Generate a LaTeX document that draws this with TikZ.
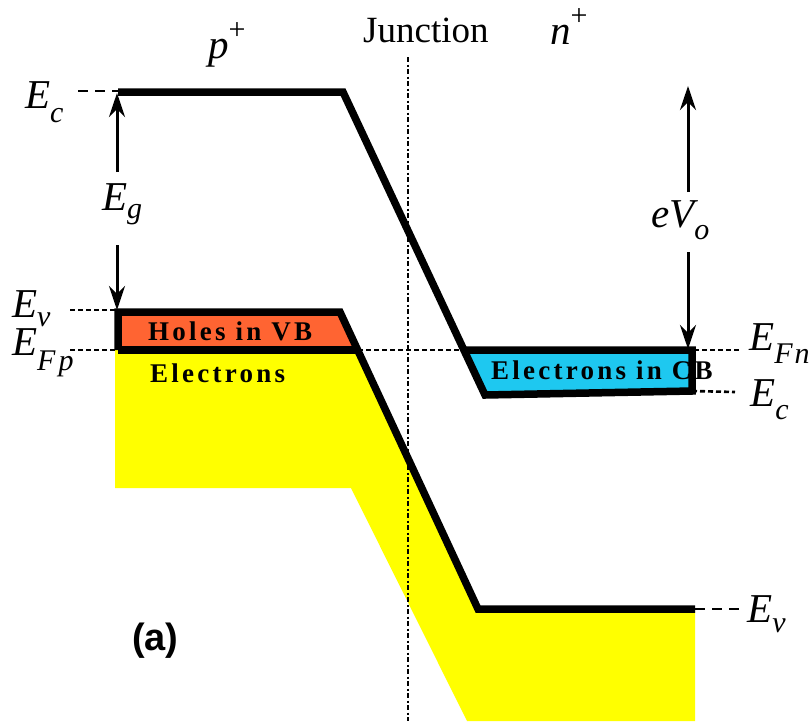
\documentclass[tikz,border=0pt]{standalone}
\usepackage{fontspec}
\setmainfont{Liberation Serif}
\setsansfont{Liberation Sans}
\usetikzlibrary{arrows.meta}
\definecolor{holes}{RGB}{255,100,50}
\definecolor{elecb}{RGB}{30,200,240}
\definecolor{yel}{RGB}{255,255,0}
\newcommand\Ebig{\fontsize{41}{44}\selectfont\itshape}
\newcommand\lowsub[2]{\raisebox{-#1}{\fontsize{30}{32}\selectfont\itshape #2}}
\begin{document}
\begin{tikzpicture}[x=1pt,y=-1pt,
  band/.style={line width=7.5pt, line join=miter},
  thin/.style={line width=3pt},
  dotl/.style={line width=2.6pt, dash pattern=on 5pt off 3pt},
  dashl/.style={line width=2.6pt, dash pattern=on 10pt off 7pt},
  junc/.style={line width=2.2pt, dash pattern=on 5pt off 2.5pt on 2pt off 2.5pt},
  lbl/.style={inner sep=0pt, anchor=base west, text=black},
  boxtxt/.style={inner sep=0pt, font=\fontsize{27}{29}\selectfont\bfseries\addfontfeatures{LetterSpace=12}},
  arr/.style={thin, -{Stealth[length=24pt, width=16pt, inset=8pt]}}]
\useasboundingbox (0,0) rectangle (811,721);
% yellow electrons region
\fill[yel] (115,350) -- (358,350) -- (478,609) -- (695,609) -- (695,721) -- (467,721) -- (351,488) -- (115,488) -- cycle;
% orange holes box
\fill[holes] (118,312) -- (340,312) -- (358,350) -- (118,350) -- cycle;
% blue electrons box
\fill[elecb] (464,350) -- (692,350) -- (692,391) -- (485,395) -- cycle;
% coordinates
\coordinate (ecL) at (118,92);
\coordinate (ecK) at (343,92);
\coordinate (ecB) at (485,395);
\coordinate (ecR) at (692,391);
\coordinate (fnR) at (692,350);
\coordinate (fnL) at (464,350);
\coordinate (evL) at (118,312);
\coordinate (evK) at (340,312);
\coordinate (evB) at (478,609);
\coordinate (evR) at (695,609);
\coordinate (fpL) at (118,350);
\coordinate (fpK) at (358,350);
% dashed level lines
\draw[dotl] (70,350) -- (740,350);
\draw[dotl] (70,310) -- (172,310);
\draw[dashl] (78,91) -- (180,91);
\draw[dotl] (ecR) -- (735,392);
\draw[dashl] (evR) -- (742,609);
% junction line
\draw[junc] (408,57) -- (408,721);
% texts in boxes
\node[boxtxt, anchor=west] (holes) at (148,331) {Holes in VB};
\node[boxtxt, anchor=west] (elec) at (150,373) {Electrons};
\node[boxtxt, anchor=west] (ecb) at (491,370) {Electrons in CB};
% bands
\draw[band] (ecL) -- (ecK) -- (ecB) -- (ecR) -- (fnR) -- (fnL);
\draw[band] (fpL) -- (evL) -- (evK) -- (evB) -- (evR);
\draw[band] (fpL) -- (fpK);
% top labels
\node[lbl] (pp) at (208,58) {\Ebig p\raisebox{19pt}{\fontsize{30}{32}\selectfont\upshape +}};
\node[lbl] (junction) at (363,42) {\fontsize{37}{40}\selectfont Junction};
\node[lbl] (nn) at (550,44) {\Ebig n\raisebox{19pt}{\fontsize{30}{32}\selectfont\upshape +}};
% left labels
\node[lbl] (lEc) at (25,108) {\Ebig E\lowsub{14pt}{c}};
\node[lbl] (lEv) at (12,317) {\Ebig E\lowsub{9pt}{v}};
\node[lbl] (lEfp) at (12,355) {\Ebig E\lowsub{15pt}{F\kern3pt p}};
% Eg arrow
\node[lbl] (Eg) at (102,210) {\Ebig E\lowsub{8pt}{g}};
\coordinate (egtop) at (117,93);
\coordinate (egbot) at (117,310);
\draw[arr] (117,172) -- (egtop);
\draw[arr] (117,245) -- (egbot);
% eVo arrow
\node[lbl] (eVo) at (651,227) {\Ebig eV\lowsub{12pt}{o}};
\coordinate (vtop) at (688,86);
\coordinate (vbot) at (688,349);
\draw[arr] (688,192) -- (vtop);
\draw[arr] (688,252) -- (vbot);
% right labels
\node[lbl] (rEfn) at (749,350) {\Ebig E\lowsub{13pt}{F\kern2pt n}};
\node[lbl] (rEc) at (750,406) {\Ebig E\lowsub{13pt}{c}};
\node[lbl] (rEv) at (747,622) {\Ebig E\lowsub{10pt}{v}};
% (a)
\node[lbl] (a) at (132,650) {\sffamily\bfseries\fontsize{38}{40}\selectfont (a)};
\end{tikzpicture}
\end{document}
